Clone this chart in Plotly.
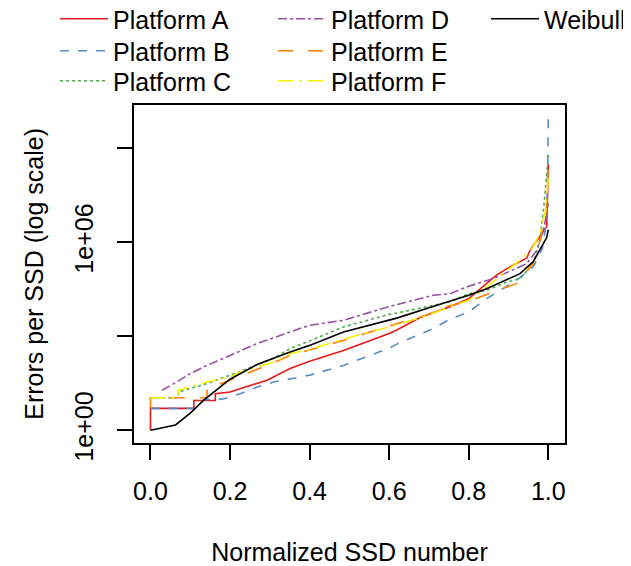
import plotly.graph_objects as go

# x: normalized SSD number; v: log10(errors per SSD)
a_x = [0, 0, 0.109, 0.109, 0.163, 0.163, 0.2, 0.234, 0.293, 0.351, 0.4, 0.485, 0.544, 0.6, 0.619, 0.678, 0.728, 0.753, 0.8, 0.858, 0.87, 0.896, 0.946, 0.954, 0.979, 0.996, 1.0]
a_v = [0, 0.7, 0.7, 0.95, 0.95, 1.17, 1.22, 1.36, 1.6, 1.97, 2.2, 2.55, 2.82, 3.09, 3.2, 3.6, 3.83, 3.94, 4.2, 4.8, 4.95, 5.16, 5.5, 5.74, 6.2, 6.5, 8.5]

b_x = [0, 0.113, 0.134, 0.183, 0.226, 0.268, 0.31, 0.351, 0.4, 0.485, 0.6, 0.619, 0.711, 0.753, 0.8, 0.845, 0.879, 0.92, 0.962, 0.985, 0.997, 1.0]
b_v = [0.7, 0.7, 0.98, 1.0, 1.17, 1.38, 1.54, 1.65, 1.76, 2.07, 2.62, 2.75, 3.25, 3.55, 3.78, 4.2, 4.47, 4.79, 5.21, 5.8, 6.8, 10.0]

c_x = [0, 0.07, 0.07, 0.142, 0.226, 0.31, 0.351, 0.4, 0.485, 0.6, 0.619, 0.753, 0.8, 0.845, 0.896, 0.929, 0.962, 0.979, 0.99, 1.0]
c_v = [1.04, 1.04, 1.22, 1.49, 1.88, 2.3, 2.61, 2.85, 3.3, 3.7, 3.74, 4.1, 4.36, 4.47, 4.73, 4.84, 5.32, 6.06, 7.3, 8.8]

d_x = [0.029, 0.059, 0.1, 0.142, 0.2, 0.268, 0.351, 0.4, 0.485, 0.6, 0.711, 0.753, 0.8, 0.862, 0.946, 0.971, 0.99, 1.0]
d_v = [1.28, 1.49, 1.81, 2.07, 2.39, 2.77, 3.14, 3.35, 3.51, 3.95, 4.31, 4.36, 4.6, 4.84, 5.32, 5.74, 6.5, 7.24]

e_x = [0, 0, 0.142, 0.142, 0.2, 0.293, 0.351, 0.485, 0.619, 0.695, 0.728, 0.8, 0.862, 0.92, 0.962, 0.979, 0.995, 1.0]
e_v = [0.7, 1.04, 1.04, 1.33, 1.6, 2.07, 2.39, 2.87, 3.4, 3.67, 3.9, 4.12, 4.41, 4.68, 5.32, 6.06, 7.0, 8.5]

f_x = [0, 0.07, 0.07, 0.142, 0.2, 0.226, 0.31, 0.351, 0.4, 0.552, 0.6, 0.686, 0.753, 0.8, 0.845, 0.929, 0.962, 0.979, 0.993, 1.0]
f_v = [1.04, 1.04, 1.28, 1.54, 1.7, 1.86, 2.18, 2.45, 2.58, 3.15, 3.3, 3.62, 3.94, 4.15, 4.57, 5.43, 5.85, 6.28, 7.0, 8.1]

w_x = [0, 0.063, 0.1, 0.134, 0.2, 0.268, 0.351, 0.4, 0.485, 0.6, 0.619, 0.728, 0.753, 0.8, 0.845, 0.879, 0.929, 0.962, 0.9875, 0.996, 1.0]
w_v = [0, 0.17, 0.55, 0.96, 1.63, 2.1, 2.5, 2.71, 3.14, 3.5, 3.58, 4.02, 4.12, 4.31, 4.52, 4.72, 5.0, 5.38, 5.96, 6.15, 6.4]

names = ["Platform A", "Platform B", "Platform C", "Platform D", "Platform E", "Platform F", "Weibull"]
xs = [a_x, b_x, c_x, d_x, e_x, f_x, w_x]
vs = [a_v, b_v, c_v, d_v, e_v, f_v, w_v]
colors = ["#E41A1C", "#5A8AC6", "#4DAF4A", "#984EA3", "#FF7F00", "#F2F200", "#000000"]
dashes = ["solid", "dash", "dot", "dashdot", "longdash", "longdashdot", "solid"]

y_tickvals = [1, 1e3, 1e6, 1e9]
y_ticktext = ["1e+00", "", "1e+06", ""]
x_tickvals = [0, 0.2, 0.4, 0.6, 0.8, 1.0]
x_ticktext = ["0.0", "0.2", "0.4", "0.6", "0.8", "1.0"]

FONT = "Liberation Sans, Arial, Helvetica, sans-serif"
OFF = 8  # page body margin
W, H = 623, 558
L, R, T, B = 133.5 - OFF, 565 - OFF, 105 - OFF, 442.7 - OFF
PW, PH = R - L, B - T

# legend grid (column text x, row center y) in figure pixels
col_text_x = [105, 323, 536]
row_y = [11, 43, 73]
item_pos = [(0, 0), (0, 1), (0, 2), (1, 0), (1, 1), (1, 2), (2, 0)]
IW = 48

fig = go.Figure()
layout_legends = {}
for i, (n, x, v, c, d) in enumerate(zip(names, xs, vs, colors, dashes)):
    key = "legend" if i == 0 else f"legend{i + 1}"
    fig.add_trace(go.Scatter(
        x=x, y=[10 ** val for val in v], mode="lines", name=n,
        line=dict(color=c, dash=d, width=1.6), legend=key, showlegend=True,
    ))
    ci, ri = item_pos[i]
    left = col_text_x[ci] - (IW + 10)
    layout_legends[key] = dict(
        xref="container", yref="container", x=left / W, y=1 - row_y[ri] / H,
        xanchor="left", yanchor="middle", bgcolor="rgba(0,0,0,0)",
        font=dict(family=FONT, size=25, color="black"), itemwidth=IW,
    )

fig.update_layout(
    width=W, height=H, showlegend=True,
    margin=dict(l=L, r=W - R, t=T, b=H - B, autoexpand=False),
    paper_bgcolor="white", plot_bgcolor="white",
    font=dict(family=FONT, size=25, color="black"),
    **layout_legends,
    xaxis=dict(
        range=[-0.0414, 1.042], tickvals=x_tickvals, ticktext=x_ticktext,
        ticks="outside", ticklen=15, tickwidth=1.5, tickcolor="black",
        showline=True, mirror=True, linecolor="black", linewidth=1.5,
        showgrid=False, zeroline=False, ticklabelstandoff=10,
        tickfont=dict(size=25),
        title=dict(text="Normalized SSD number", font=dict(size=25), standoff=40),
    ),
    yaxis=dict(
        type="log", range=[-0.405, 10.38], tickvals=y_tickvals, ticktext=y_ticktext,
        tickangle=-90,
        ticks="outside", ticklen=15, tickwidth=1.5, tickcolor="black",
        showline=True, mirror=True, linecolor="black", linewidth=1.5,
        showgrid=False, zeroline=False, ticklabelstandoff=14,
        tickfont=dict(size=25),
    ),
    annotations=[dict(
        text="Errors per SSD (log scale)", textangle=-90, showarrow=False,
        xref="paper", yref="paper", x=(26 - L) / PW, y=(B - 266) / PH,
        xanchor="center", yanchor="middle", font=dict(size=25),
    )],
)

fig.write_html("out.html")
